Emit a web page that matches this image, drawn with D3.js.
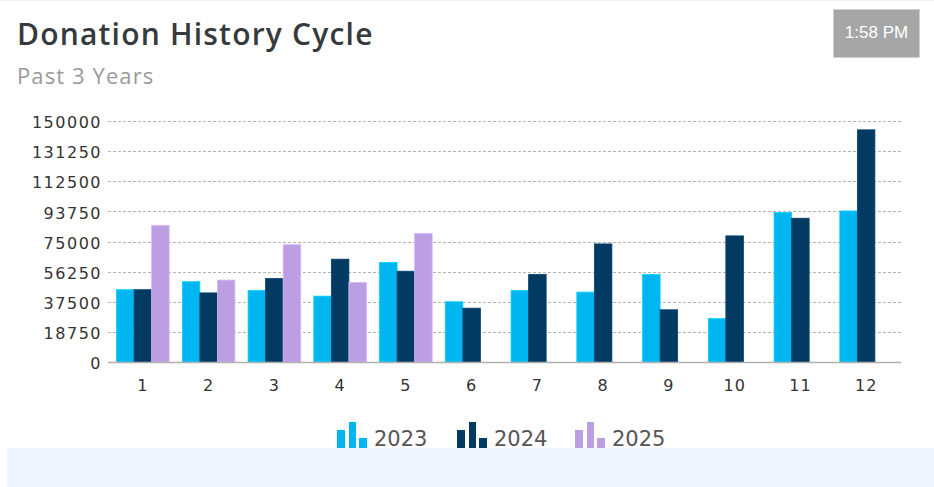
<!DOCTYPE html>
<html>
<head>
<meta charset="utf-8">
<script src="https://cdn.jsdelivr.net/npm/d3@7"></script>
<style>
  html, body { margin: 0; padding: 0; background: #fff; }
  svg { display: block; }
</style>
</head>
<body>
<svg id="chart" width="934" height="487"></svg>
<script>
// Monthly donation totals per year
const months = ["1", "2", "3", "4", "5", "6", "7", "8", "9", "10", "11", "12"];
const years = ["2023", "2024", "2025"];
const values2023 = [45000, 50000, 44500, 41000, 62000, 37500, 44500, 43500, 54500, 27000, 93000, 94000];
const values2024 = [45000, 43000, 52000, 64000, 56500, 33500, 54500, 73500, 32500, 78500, 89500, 144500];
const values2025 = [85000, 51000, 73000, 49500, 80000, null, null, null, null, null, null, null];
const yTicks = [0, 18750, 37500, 56250, 75000, 93750, 112500, 131250, 150000];
const colors = ["#00b6f1", "#023a62", "#bb9fe2"];

const series = [values2023, values2024, values2025];
const svg = d3.select("#chart");

// Footer strip and top hairline
svg.append("rect").attr("x", 7).attr("y", 448).attr("width", 927).attr("height", 39).attr("fill", "#eff4fe");
svg.append("rect").attr("x", 0).attr("y", 0).attr("width", 934).attr("height", 1).attr("fill", "#eef1f7");

// Title and subtitle
svg.append("text").attr("x", 17).attr("y", 45)
  .attr("font-family", "'Open Sans', sans-serif").attr("font-weight", 600)
  .attr("font-size", 30).attr("letter-spacing", "1.2px").attr("fill", "#373a3c")
  .text("Donation History Cycle");
svg.append("text").attr("x", 17).attr("y", 84)
  .attr("font-family", "'Open Sans', sans-serif")
  .attr("font-size", 22).attr("letter-spacing", "1.1px").attr("fill", "#9a9a9a")
  .text("Past 3 Years");

// Time badge
svg.append("rect").attr("x", 833.5).attr("y", 9.5).attr("width", 86).attr("height", 48)
  .attr("fill", "#a6a6a6").attr("stroke", "#d0d0d0");
svg.append("text").attr("x", 876.5).attr("y", 38)
  .attr("text-anchor", "middle")
  .attr("font-family", "'Liberation Sans', Arial, sans-serif")
  .attr("font-size", 17).attr("fill", "#ffffff")
  .text("1:58 PM");

// Scales
const x = d3.scaleBand().domain(months).range([110, 899]).paddingInner(0.2).paddingOuter(0.1);
const xInner = d3.scaleBand().domain(years).range([0, x.bandwidth()]);
const y = d3.scaleLinear().domain([0, 150000]).range([362, 121]);

// Dotted gridlines
svg.append("g")
  .selectAll("line")
  .data(yTicks)
  .join("line")
  .attr("x1", 108).attr("x2", 901)
  .attr("y1", d => Math.round(y(d)) + 0.5).attr("y2", d => Math.round(y(d)) + 0.5)
  .attr("stroke", "#b4b4b4").attr("stroke-width", 1)
  .attr("stroke-dasharray", "3,2");

// Y axis labels
const yAxis = d3.axisLeft(y).tickValues(yTicks).tickSize(0).tickPadding(0).tickFormat(d3.format("d"));
const gy = svg.append("g").attr("transform", "translate(102,1.5)").call(yAxis);
gy.select(".domain").remove();
gy.selectAll("text")
  .attr("font-family", "'DejaVu Sans', Verdana, sans-serif")
  .attr("font-size", 16).attr("letter-spacing", "1.5px")
  .attr("fill", "#333");

// Bars
const groups = svg.append("g")
  .selectAll("g")
  .data(months)
  .join("g")
  .attr("transform", d => `translate(${x(d)},0)`);

groups.selectAll("rect")
  .data((m, i) => years.map((yr, k) => ({ year: yr, k, v: series[k][i] })).filter(d => d.v != null))
  .join("rect")
  .attr("x", d => xInner(d.year))
  .attr("width", xInner.bandwidth())
  .attr("y", d => y(d.v))
  .attr("height", d => y(0) - y(d.v))
  .attr("fill", d => colors[d.k])
  .attr("stroke", d => d3.color(colors[d.k]).brighter(0.4))
  .attr("stroke-width", 0.8);

// Baseline
svg.append("line").attr("x1", 108).attr("x2", 901).attr("y1", 362.5).attr("y2", 362.5)
  .attr("stroke", "#b0b0b0").attr("stroke-width", 1.5);

// X axis labels
const xAxis = d3.axisBottom(x).tickSize(0).tickPadding(0);
const gx = svg.append("g").attr("transform", "translate(0,391)").call(xAxis);
gx.select(".domain").remove();
gx.selectAll("text")
  .attr("dy", 0)
  .attr("font-family", "'DejaVu Sans', Verdana, sans-serif")
  .attr("font-size", 16).attr("letter-spacing", "1px")
  .attr("fill", "#333");

// Legend
const legendX = [337, 457, 575];
const legend = svg.append("g")
  .selectAll("g")
  .data(years)
  .join("g")
  .attr("transform", (d, i) => `translate(${legendX[i]},0)`);
const iconBars = [[0, 8, 18], [12, 7, 26], [22, 8, 10]];
legend.each(function (d, i) {
  const g = d3.select(this);
  g.selectAll("rect")
    .data(iconBars)
    .join("rect")
    .attr("x", b => b[0]).attr("width", b => b[1])
    .attr("y", b => 448 - b[2]).attr("height", b => b[2])
    .attr("fill", colors[i]);
  g.append("text").attr("x", 37).attr("y", 446)
    .attr("font-family", "'DejaVu Sans', Verdana, sans-serif")
    .attr("font-size", 21).attr("fill", "#555")
    .text(d);
});
</script>
</body>
</html>
